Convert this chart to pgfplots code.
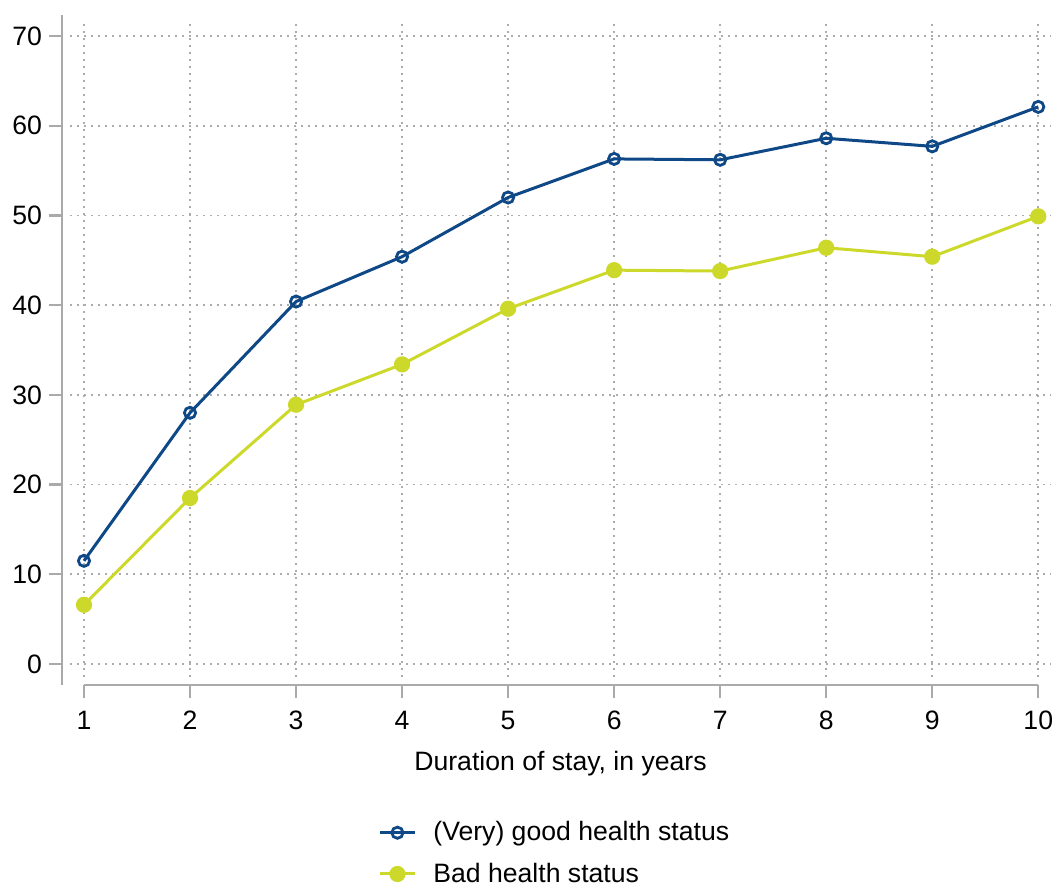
\documentclass[border=0pt]{standalone}
\usepackage{pgfplots}
\pgfplotsset{compat=1.18}
\usepackage{fontspec}
\setmainfont{Liberation Sans}
\definecolor{cblue}{RGB}{14,72,134}
\definecolor{cyell}{RGB}{205,217,42}
\definecolor{axgray}{RGB}{170,170,170}
\begin{document}
\begin{tikzpicture}
\begin{axis}[
  scale only axis,
  width=490.5pt, height=327.5pt,
  xmin=0.868, xmax=10.12,
  ymin=-1.45, ymax=71.56,
  axis lines*=left,
  axis x line shift=4pt,
  axis y line shift=4pt,
  x axis line style={draw=axgray, line width=1.2pt, shorten <=7pt, shorten >=6.5pt},
  y axis line style={draw=axgray, line width=1.2pt, shorten <=-4pt, shorten >=-3.5pt},
  xtick={1,...,10}, ytick={0,10,...,70},
  tick style={draw=axgray, line width=1.2pt},
  major tick length=6.5pt,
  tick align=outside,
  xticklabel style={yshift=-3pt},
  grid=major,
  major grid style={dash pattern=on 0.8pt off 2.7pt, draw=gray!65, line width=0.8pt},
  ticklabel style={font=\fontsize{13.3}{16}\selectfont},
  /pgf/number format/assume math mode=true,
  xlabel={Duration of stay, in years},
  xlabel style={font=\fontsize{13.3}{16}\selectfont, yshift=-4pt},
  legend style={draw=none, fill=none, font=\fontsize{13.3}{16}\selectfont,
    at={(axis description cs:0.314,-0.214)}, anchor=north west,
    row sep=5.5pt, inner sep=0pt, cells={anchor=west},
    /tikz/every odd column/.append style={column sep=6.5pt}},
  legend image code/.code={\draw[mark repeat=2,mark phase=2,#1] plot coordinates {(0pt,0pt)(8.75pt,0pt)(17.5pt,0pt)};},
  legend cell align=left,
]
\addplot[cblue, line width=1.5pt, mark=o, mark size=2.8pt, mark options={line width=1.4pt, fill=white}]
  coordinates {(1,11.5)(2,28.0)(3,40.4)(4,45.4)(5,52.0)(6,56.3)(7,56.2)(8,58.6)(9,57.7)(10,62.1)};
\addlegendentry{(Very) good health status}
\addplot[cyell, line width=1.5pt, mark=*, mark size=3.3pt]
  coordinates {(1,6.6)(2,18.5)(3,28.9)(4,33.4)(5,39.6)(6,43.9)(7,43.8)(8,46.4)(9,45.4)(10,49.9)};
\addlegendentry{Bad health status}
\end{axis}
\pgfresetboundingbox
\path (current axis.south west) ++(-35pt,-104pt) rectangle ++(527pt,442.5pt);
\end{tikzpicture}
\end{document}
